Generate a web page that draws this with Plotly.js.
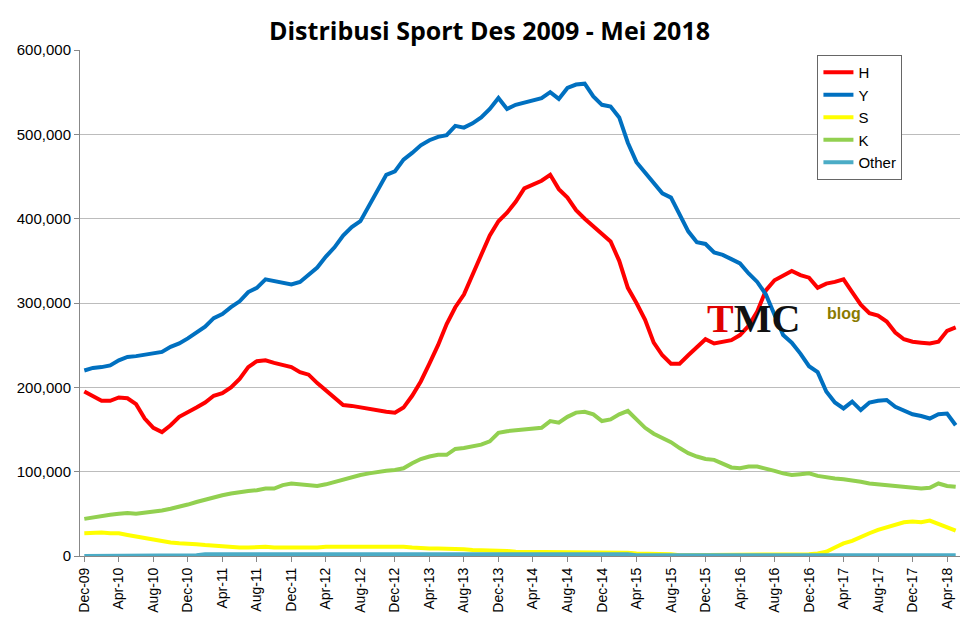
<!DOCTYPE html>
<html>
<head>
<meta charset="utf-8">
<script src="https://cdn.plot.ly/plotly-3.0.1.min.js"></script>
<style>body{margin:0;background:#fff}#chart{width:979px;height:640px}</style>
</head>
<body>
<div id="chart"></div>
<script>
var monthNames = ['Jan','Feb','Mar','Apr','May','Jun','Jul','Aug','Sep','Oct','Nov','Dec'];
var months = [];
for (var k = 0; k < 102; k++) {
    var m = (11 + k) % 12, yr = 9 + Math.floor((11 + k) / 12);
    months.push(monthNames[m] + '-' + (yr < 10 ? '0' + yr : '' + yr));
}
var tickLabels = months.filter(function (d, i) { return i % 4 === 0; });

var H = [195,190,184,184,188,187,180,163,152,147,155,165,170,176,182,190,193,200,210,224,231,232,229,226,224,218,215,205,196,188,179,178,176,175,172,171,170,176,190,207,228,250,275,295,310,335,357,380,397,407,420,436,440,445,452,435,425,410,400,391,383,373,350,318,300,280,253,238,228,228,238,247,257,252,254,256,262,273,290,315,327,333,338,333,330,318,323,325,328,313,298,288,285,278,265,257,254,253,252,254,267,271];
var Y = [220,223,224,226,232,236,237,239,240,242,248,252,258,265,272,282,287,295,302,313,318,328,326,323,322,325,333,342,355,366,380,390,397,415,432,452,456,470,478,487,493,497,499,510,508,513,520,530,543,530,535,538,540,543,550,542,555,559,560,545,535,533,520,490,467,455,443,430,425,405,385,372,370,360,357,352,347,335,325,310,285,262,253,240,225,218,195,182,175,183,173,182,184,185,177,172,168,166,163,168,169,155];
var S = [27,28,28,27,27,25,23,21,19,17,16,15,15,14,13,12,12,11,10,10,11,11,10,10,10,9,9,10,11,11,12,12,11,11,11,11,11,11,10,9,9,9,9,8,8,7,7,6,6,6,5,5,5,5,5,5,4,4,4,4,4,4,4,4,3,3,3,3,2,1,1,1,1,1,1,1,1,1,1,1,1,1,1,1,2,3,5,10,15,18,23,27,31,34,37,40,41,40,42,38,33,30];
var K = [44,46,47,49,50,51,50,51,53,54,56,58,61,64,67,70,72,74,76,77,78,80,80,84,86,85,84,83,85,88,90,93,96,98,100,101,102,104,110,115,118,120,120,127,128,130,132,136,146,148,149,150,150,152,160,158,165,170,171,168,160,162,168,172,162,152,145,140,135,128,122,118,115,114,110,105,104,106,106,104,101,98,96,97,98,95,93,92,91,90,88,86,85,84,83,81,80,80,81,86,83,82];
var Other = [0,0,0,0,0,0,0,0,0,1,1,1,1,1,2,2,2,2,2,3,3,3,3,3,3,3,3,3,3,3,3,3,3,3,3,3,3,3,3,3,3,3,3,3,3,3,3,3,3,3,3,3,2,2,2,2,2,2,2,2,2,2,2,2,1,1,1,1,1,1,1,1,1,1,1,1,1,1,1,1,1,1,1,1,1,1,1,1,1,1,1,1,1,1,1,1,1,1,1,1,1,1];

function thousands(a) { return a.map(function (v) { return v * 1000; }); }
function trace(name, vals, color) {
    return { x: months, y: thousands(vals), name: name, type: 'scatter', mode: 'lines',
        line: { color: color, width: 4 } };
}
var data = [
    trace('H', H, '#ff0000'),
    trace('Y', Y, '#0070c0'),
    trace('S', S, '#ffff00'),
    trace('K', K, '#92d050'),
    trace('Other', Other, '#4bacc6')
];

var layout = {
    width: 979, height: 640,
    margin: { l: 80, r: 19, t: 50, b: 84 },
    paper_bgcolor: '#fff', plot_bgcolor: '#fff',
    font: { family: 'Liberation Sans, Arial', size: 15, color: '#000' },
    title: { text: 'Distribusi Sport Des 2009 - Mei 2018', x: 0.5, y: 0.965,
        font: { size: 25, family: 'Open Sans, Liberation Sans', weight: 'bold', color: '#000' } },
    xaxis: { type: 'category', tickvals: tickLabels, ticktext: tickLabels, tickangle: -90,
        showgrid: false, showline: true, linecolor: '#888', ticks: 'outside', ticklen: 5, tickcolor: '#888',
        range: [-0.5, 101.5], tickfont: { size: 14 } },
    yaxis: { range: [0, 600000], dtick: 100000, tickformat: ',d', showgrid: true, gridcolor: '#bcbcbc',
        showline: true, linecolor: '#888', ticks: 'outside', ticklen: 5, tickcolor: '#888', zeroline: false },
    legend: { x: 0.838, y: 0.99, xanchor: 'left', yanchor: 'top', bordercolor: '#666', borderwidth: 1,
        bgcolor: '#fff', font: { size: 15 }, tracegroupgap: 0 },
    annotations: [
        { xref: 'paper', yref: 'paper', x: 0.82, y: 0.47, showarrow: false,
          text: '<b><span style="color:#e00000">T</span>MC</b>', font: { size: 40, color: '#111', family: 'Liberation Serif' } },
        { xref: 'paper', yref: 'paper', x: 0.89, y: 0.48, showarrow: false,
          text: '<b>blog</b>', font: { size: 16, color: '#8a7a00' } }
    ]
};

Plotly.newPlot('chart', data, layout, { staticPlot: true });
</script>
</body>
</html>
